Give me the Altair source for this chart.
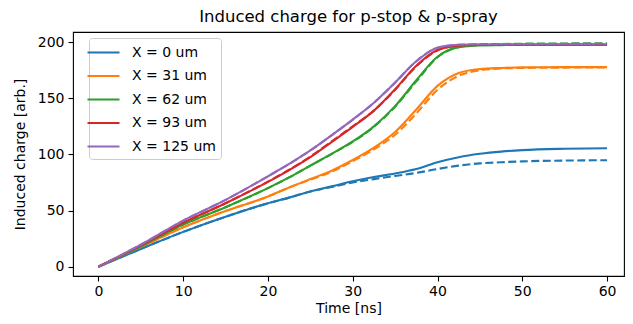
import altair as alt
import pandas as pd

times = [0, 5, 10, 15, 20, 22.5, 25, 27.5, 30, 32.5, 35, 37.5, 40, 42.5, 45, 47.5, 50, 55, 60]
labels = ["X = 0 um", "X = 31 um", "X = 62 um", "X = 93 um", "X = 125 um"]
colors = ["#1f77b4", "#ff7f0e", "#2ca02c", "#d62728", "#9467bd"]

# p-stop (solid)
pstop_0 = [0, 15.8, 31, 44.5, 56.5, 61.5, 67, 71.5, 76, 79.8, 83, 87, 93, 97.5, 100.5, 102.5, 103.8, 105, 105.5]
pstop_31 = [0, 17.5, 35, 49.5, 62.5, 70.5, 78, 85.5, 95, 106, 120, 140, 161, 172.5, 176, 177, 177.5, 177.7, 177.7]
pstop_62 = [0, 18, 37.5, 53, 70, 79.5, 90, 100.5, 111.5, 125, 143, 166, 187, 195.5, 197, 197.3, 197.5, 197.5, 197.5]
pstop_93 = [0, 18.8, 39, 56.5, 75.5, 86, 97.5, 111, 124.5, 139, 158, 179, 193, 196.8, 197.4, 197.5, 197.5, 197.5, 197.5]
pstop_125 = [0, 19.5, 41, 59.5, 80.5, 91.5, 103.5, 117, 131, 146, 164, 183, 195, 197.6, 198, 198, 198, 198, 198]

# p-spray (dashed)
pspray_0 = [0, 15.8, 31, 44.5, 56.5, 61.5, 67, 71, 75, 78, 80.8, 83.5, 87, 90, 92, 93, 93.8, 94.5, 94.8]
pspray_31 = [0, 17.5, 35, 49.5, 62.5, 70.5, 77.5, 84.5, 94, 104.5, 117.5, 136.5, 157.5, 170, 175, 176.5, 177, 177.3, 177.5]
pspray_62 = [0, 18, 37.5, 53, 70, 79.5, 90, 100.3, 111.2, 124.5, 142.5, 165, 186.5, 195.5, 197.5, 198.2, 198.6, 198.8, 199]
pspray_93 = [0, 18.8, 39, 56.5, 75.8, 86.3, 98, 111.5, 125, 139, 157.5, 178.5, 192.5, 196.8, 197.6, 197.9, 198, 198.2, 198.3]
pspray_125 = [0, 19.5, 41, 59.5, 80.5, 91.5, 103.5, 117, 131, 146, 164, 183, 195, 197.6, 198, 198.2, 198.3, 198.4, 198.5]

pstop = [pstop_0, pstop_31, pstop_62, pstop_93, pstop_125]
pspray = [pspray_0, pspray_31, pspray_62, pspray_93, pspray_125]

rows_solid, rows_dash = [], []
for i, lab in enumerate(labels):
    for j, t in enumerate(times):
        rows_solid.append({"t": t, "q": pstop[i][j], "series": lab, "order": j})
        rows_dash.append({"t": t, "q": pspray[i][j], "series": lab, "order": j})
df_solid = pd.DataFrame(rows_solid)
df_dash = pd.DataFrame(rows_dash)

FONT = "DejaVu Sans"

x = alt.X("t:Q", title="Time [ns]",
          scale=alt.Scale(domain=[-3, 62.0], nice=False, zero=False),
          axis=alt.Axis(values=[0, 10, 20, 30, 40, 50, 60], format="d",
                        labelPadding=3, titlePadding=3))
y = alt.Y("q:Q", title="Induced charge [arb.]",
          scale=alt.Scale(domain=[-8.3, 209], nice=False, zero=False),
          axis=alt.Axis(values=[0, 50, 100, 150, 200], format="d",
                        labelPadding=4, titlePadding=10))

color_scale = alt.Scale(domain=labels, range=colors)

solid = alt.Chart(df_solid).mark_line(strokeWidth=2.1, interpolate="monotone").encode(
    x=x, y=y,
    color=alt.Color("series:N", scale=color_scale, sort=labels,
                    legend=alt.Legend(title=None, orient="none", legendX=16, legendY=6,
                                      symbolType="M-2,0H2", symbolSize=256,
                                      symbolStrokeWidth=2.1, labelOffset=19,
                                      labelFontSize=14, labelFont=FONT, labelColor="black",
                                      rowPadding=6.5, padding=5,
                                      fillColor="rgba(255,255,255,0.8)",
                                      strokeColor="#cccccc", cornerRadius=3)),
    detail="series:N",
    order="order:Q",
)

dashed = alt.Chart(df_dash).mark_line(strokeWidth=2.1, strokeDash=[8, 3.5], interpolate="monotone").encode(
    x=x, y=y,
    color=alt.Color("series:N", scale=color_scale, sort=labels, legend=None),
    detail="series:N",
    order="order:Q",
)

chart = alt.layer(solid, dashed).properties(
    width=551, height=244,
    title=alt.Title("Induced charge for p-stop & p-spray", fontSize=16.5, fontWeight="normal",
                    font=FONT, color="black", offset=7, anchor="middle"),
    autosize=alt.AutoSizeParams(type="none"),
    padding={"left": 65, "top": 24, "right": 1, "bottom": 39},
).configure_view(stroke="black", strokeWidth=1.1).configure_axis(
    grid=False, domain=False, tickColor="black", tickWidth=1.1, tickSize=5,
    labelFont=FONT, labelFontSize=14, labelColor="black",
    titleFont=FONT, titleFontSize=14, titleFontWeight="normal", titleColor="black",
)

chart.save("out.html", embed_options={"renderer": "svg", "actions": False})
